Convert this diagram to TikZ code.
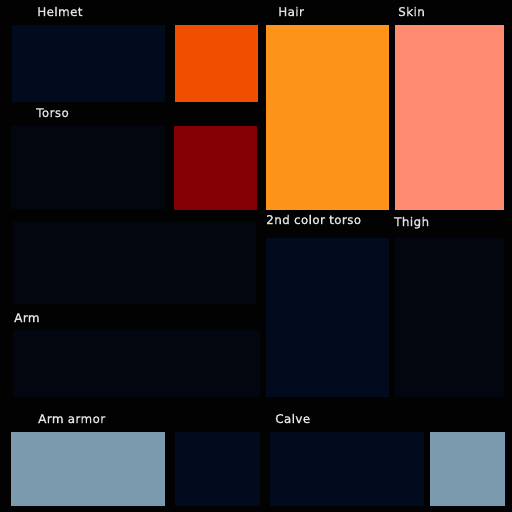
\documentclass[tikz,border=0pt]{standalone}
\usepackage{fontspec}
\setmainfont[FakeBold=1.2,LetterSpace=3]{DejaVu Sans}
\definecolor{bg}{HTML}{020202}
\definecolor{navy}{HTML}{020A1E}
\definecolor{dk}{HTML}{02060E}
\definecolor{orng}{HTML}{F04F00}
\definecolor{dred}{HTML}{840004}
\definecolor{hair}{HTML}{FE9319}
\definecolor{skin}{HTML}{FF8C70}
\definecolor{steel}{HTML}{7B9AAE}
\definecolor{txt}{HTML}{E4E4E4}
\begin{document}
\begin{tikzpicture}[x=1pt,y=-1pt,
  lbl/.style={anchor=base west,inner sep=0pt,text=txt,font=\fontsize{12}{14}\selectfont}]
\fill[bg] (0,0) rectangle (512,512);
\useasboundingbox (0,0) rectangle (512,512);
% row 1
\fill[navy] (12,25) rectangle (165,102);
\fill[orng] (175,25) rectangle (258,102);
\fill[dk] (11,126) rectangle (165,209);
\fill[dred] (174,126) rectangle (257,210);
\fill[hair] (266,25) rectangle (389,210);
\fill[skin] (395,25) rectangle (504,210);
% middle
\fill[dk] (13,222) rectangle (256,304);
\fill[dk] (13,330) rectangle (260,397);
\fill[navy] (266,238) rectangle (389,397);
\fill[dk] (395,238) rectangle (504,397);
% bottom
\fill[steel] (11,432) rectangle (165,506);
\fill[navy] (175,432) rectangle (260,506);
\fill[navy] (270,432) rectangle (424,506);
\fill[steel] (430,432) rectangle (505,506);
% labels
\node[lbl] (helmet) at (37,16) {Helmet};
\node[lbl] (torso) at (36,117) {Torso};
\node[lbl] (hairl) at (278,16) {Hair};
\node[lbl] (skinl) at (398,16) {Skin};
\node[lbl] (torso2) at (266,224) {2nd color torso};
\node[lbl] (thigh) at (394,226) {Thigh};
\node[lbl] (arm) at (14,322) {Arm};
\node[lbl] (armarmor) at (38,423) {Arm armor};
\node[lbl] (calve) at (275,423) {Calve};
\end{tikzpicture}
\end{document}
